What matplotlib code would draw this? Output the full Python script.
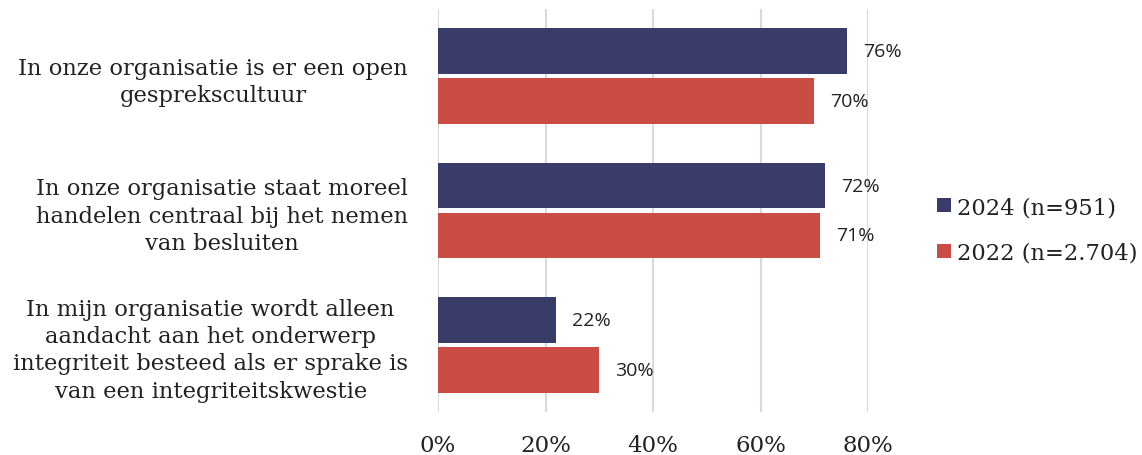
import matplotlib
matplotlib.use("Agg")
import matplotlib.pyplot as plt
import numpy as np

categories = [
    "In onze organisatie is er een open\ngesprekscultuur",
    "In onze organisatie staat moreel\nhandelen centraal bij het nemen\nvan besluiten",
    "In mijn organisatie wordt alleen\naandacht aan het onderwerp\nintegriteit besteed als er sprake is\nvan een integriteitskwestie",
]
series_2024 = [0.76, 0.72, 0.22]
series_2022 = [0.70, 0.71, 0.30]
series_names = ["2024 (n=951)", "2022 (n=2.704)"]
xticks = [0, 0.2, 0.4, 0.6, 0.8]
xtick_labels = ["0%", "20%", "40%", "60%", "80%"]

navy = "#393B68"
red = "#C94C45"
serif = ["DejaVu Serif"]

fig = plt.figure(figsize=(11.42, 4.56), dpi=100)
ax = fig.add_axes([438/1142, 1-413/456, (868-438)/1142, 403/456])

y = np.arange(len(categories))
h = 0.34
off = 0.185
b1 = ax.barh(y - off, series_2024, height=h, color=navy, label=series_names[0])
b2 = ax.barh(y + off, series_2022, height=h, color=red, label=series_names[1])

for bars, vals in ((b1, series_2024), (b2, series_2022)):
    for rect, v in zip(bars, vals):
        ax.text(v + 0.03, rect.get_y() + rect.get_height()/2, f"{round(v*100)}%",
                va="center", ha="left", fontsize=14, family="Open Sans",
                color="#222222", clip_on=False)

ax.set_xlim(0, 0.8)
ax.set_ylim(2.5, -0.5)
ax.set_xticks(xticks)
ax.set_xticklabels(xtick_labels, family=serif, fontsize=16.5, color="#222222")
ax.set_yticks(y)
ax.set_yticklabels(categories, family=serif, fontsize=16.3, color="#222222",
                   multialignment="center", linespacing=1.3)
ax.tick_params(axis="both", length=0)
ax.tick_params(axis="y", pad=21.5)
ax.tick_params(axis="x", pad=16)
ax.grid(axis="x", color="#d9d9d9", linewidth=1.5)
ax.set_axisbelow(True)
for s in ax.spines.values():
    s.set_visible(False)

leg = fig.legend(handles=[b1, b2], labels=series_names, loc="center left",
                 bbox_to_anchor=(937/1142, 1-231/456), frameon=False,
                 prop={"family": serif, "size": 16.3}, handlelength=0.6,
                 handleheight=0.6, handletextpad=0.3, labelspacing=1.05,
                 borderaxespad=0, borderpad=0)
for t in leg.get_texts():
    t.set_color("#222222")

fig.savefig("out.png", dpi=100)
